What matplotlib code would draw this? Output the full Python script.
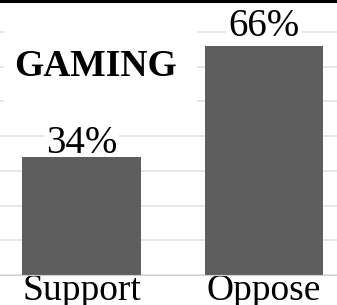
import matplotlib
matplotlib.use("Agg")
import matplotlib.pyplot as plt
from matplotlib.patches import Rectangle
from matplotlib.lines import Line2D

# данные
categories = ["Support", "Oppose"]
values = [34, 66]
labels = ["34%", "66%"]
title = "GAMING"

bar_color = "#5e5e5e"
grid_color = "#e3e3e3"

plt.rcParams["font.family"] = ["Liberation Serif", "DejaVu Serif"]

fig = plt.figure(figsize=(3.37, 3.05), dpi=100)
ax = fig.add_axes([0, 30 / 305, 1, 275 / 305])

x = list(range(len(categories)))
ax.bar(x, values, width=0.65, color=bar_color, zorder=2)

ax.set_xlim(-0.447, 1.40)
ax.set_ylim(0, 79.25)
ax.set_yticks(range(0, 80, 10))
ax.yaxis.grid(True, color=grid_color, linewidth=1.2, zorder=0)
ax.set_axisbelow(True)
ax.tick_params(axis="y", left=False, labelleft=False)
ax.tick_params(axis="x", length=0, pad=-1, labelsize=27)
ax.set_xticks(x)
ax.set_xticklabels(categories)
for side in ["left", "right", "top"]:
    ax.spines[side].set_visible(False)
ax.spines["bottom"].set_color("#d0d0d0")

# подписи значений, у высокого столбца отступ больше
pads = [3, 7]
for xi, v, lab, p in zip(x, values, labels, pads):
    ax.annotate(lab, (xi, v), xytext=(0, p), textcoords="offset points",
                ha="center", va="baseline", fontsize=28, zorder=1.5,
                bbox=dict(boxstyle="square,pad=0.05", fc="white", ec="none"))

# белая подложка под заголовком
fig.patches.append(Rectangle((4 / 337, 1 - 115 / 305), 193 / 337, 100 / 305,
                             transform=fig.transFigure, fc="white", ec="none",
                             zorder=3))
fig.text(95 / 337, 1 - 76 / 305, title, ha="center", va="baseline",
         fontsize=27, fontweight="bold", zorder=5)

# чёрная линия сверху
fig.add_artist(Line2D([0, 1], [1 - 1.2 / 305, 1 - 1.2 / 305], color="black",
                      linewidth=2.2, transform=fig.transFigure))

fig.savefig("out.png", dpi=100)
